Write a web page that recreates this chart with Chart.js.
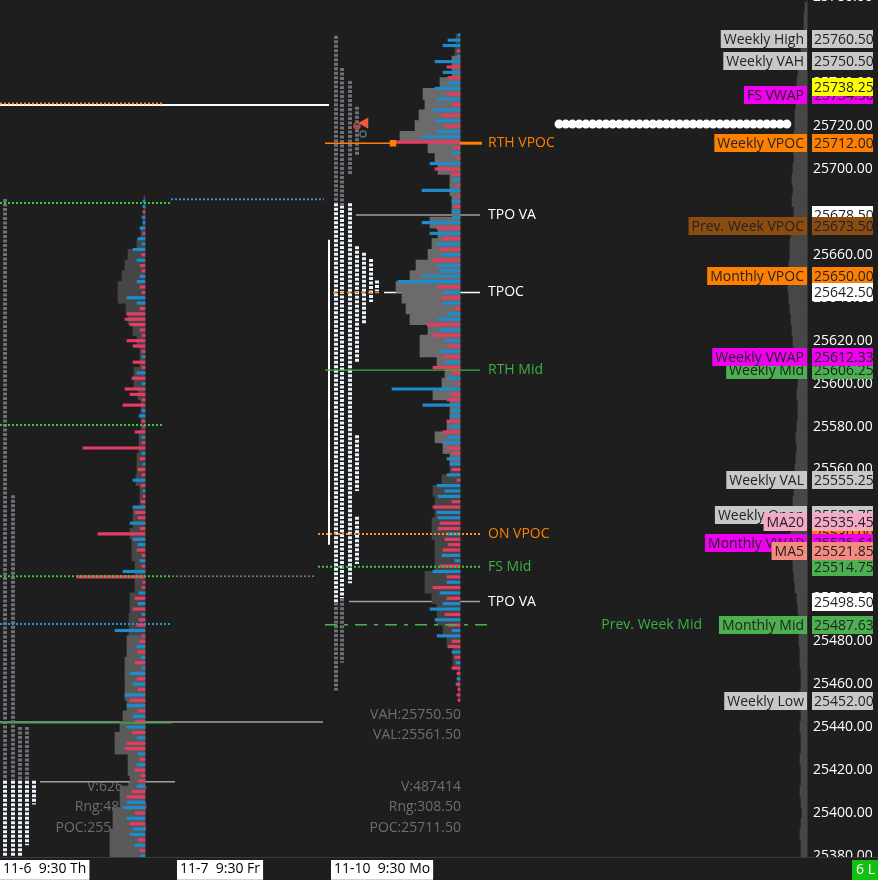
<!DOCTYPE html>
<html>

<head>
  <title>Market Profile</title>
  <script src="https://cdn.jsdelivr.net/npm/chart.js"></script>
  <style>
    html,
    body {
      margin: 0;
      padding: 0;
      background: #1e1e1e;
      overflow: hidden;
    }

    canvas {
      display: block;
    }
  </style>
</head>

<body>
  <canvas id="chart" width="878" height="880"></canvas>
  <script>
    // ---- axes ----
    const priceTicks = [25380, 25400, 25420, 25440, 25460, 25480, 25500, 25520, 25540, 25560,
      25580, 25600, 25620, 25640, 25660, 25680, 25700, 25720, 25740, 25760, 25780];
    const sessionStarts = [0, 177, 331];
    const sessionLabels = ['11-6  9:30 Th', '11-7  9:30 Fr', '11-10  9:30 Mo'];

    // ---- volume profiles (5 pt rows, top row first) ----
    const rightVolume = [4, 5, 8, 8, 20, 37, 35, 41, 45, 60, 32, 25, 22, 10, 10, 8, 8, 30, 22, 28,
      32, 44, 50, 64, 58, 54, 50, 32, 40, 40, 23, 15, 18, 27, 10, 10, 13, 25, 17, 10,
      10, 18, 27, 25, 25, 28, 28, 25, 25, 25, 35, 35, 28, 23, 23, 17, 13, 7, 7, 2, 2, 1];
    const leftVolume = [1, 1, 2, 4, 8, 17, 20, 23, 27, 27, 19, 17, 12, 8, 5, 5, 11, 11, 7, 4,
      4, 4, 6, 6, 8, 8, 9, 5, 5, 12, 12, 15, 13, 13, 10, 10, 10, 15, 15, 16,
      16, 18, 18, 20, 20, 20, 20, 18, 22, 25, 30, 30, 17, 17, 15, 25, 25, 32, 32, 35, 35, 35];
    const weeklyVolume = [2, 3, 3, 4, 6, 8, 9, 10, 10, 11, 12, 12, 13, 14, 13, 14, 15, 14, 15, 13,
      15, 16, 17, 17, 18, 18, 19, 18, 17, 16, 15, 14, 13, 11, 10, 9, 10, 9, 9, 10,
      11, 10, 11, 12, 12, 13, 14, 15, 16, 16, 15, 15, 14, 13, 12, 10, 9, 8, 8, 8,
      7, 7, 6, 6, 7, 6, 6, 7, 6, 6, 7, 6, 6, 7, 6, 5, 6, 7, 6, 6];
    const rightTop = 25760, leftTop = 25685, weeklyTop = 25775;
    const rightValueArea = [25561.5, 25750.5];
    const leftValueArea = [25380, 25480];

    // ---- delta per 2.5 pt row (+ buy / - sell) ----
    const deltaRight = [2, 12, 17, -3, 3, 25, -13, 17, -12, 13,
      25, -13, 23, -8, 27, -18, 25, -15, 23, 38,
      -65, -7, 8, -3, 30, -25, -8, 7, -3, 38,
      -3, 8, -5, 8, 7, 38, -23, 30, -17, 23,
      -20, 18, -27, 22, 20, 38, 62, -22, 17, -18,
      17, -5, 13, 22, -33, 20, -27, 15, -13, 20,
      -17, 15, -27, -8, 13, -2, 68, -10, -13, 37,
      8, 10, -13, 10, -17, 12, 17, -13, -8, 13,
      10, -8, 13, -3, 23, 15, 22, -8, -27, 23,
      22, -20, -22, 13, -15, -12, -17, 18, 5, -20,
      27, -13, 13, -27, 20, -13, 17, 30, -15, 25,
      -12, 8, 23, -8, -12, 8, -5, 4, -8, -3,
      3, -4, -2, -3, -2];
    const deltaLeft = [2, 2, -2, 3, 2, 5, -2, 7, 3, 12,
      -3, 8, -5, -3, 5, 8, -5, -3, 18, 8,
      -5, -18, -20, -15, -5, -3, -18, -12, -3, 3,
      -12, -3, 8, -13, 3, -20, -15, -3, -22, 3,
      6, -3, -2, -10, 3, -3, -62, 3, -5, 2,
      -7, -3, 12, -4, 2, -2, -4, 12, -10, -7,
      15, -5, -47, 12, 7, -8, -3, 5, -3, 22,
      -68, -2, -3, 6, -10, 7, -12, 3, -6, -8,
      30, -3, -5, 8, -7, 4, -10, 3, 15, -8,
      12, -7, 20, -15, 18, -7, 12, -10, 18, -13,
      8, -18, -20, 7, -5, 8, -10, -4, -7, 8,
      -13, -18, 18, 22, -10, 18, -15, 12, 15, -7,
      10, -5, 4];
    const deltaRightTop = 25762.5, deltaLeftTop = 25685;

    // ---- TPO columns ----
    const tpoX = [336, 336, 336, 342, 342, 342, 350, 350, 357, 357, 357, 357, 364, 371, 377,
      5, 5, 13, 13, 20, 20, 27, 27, 34, 329];
    const tpoHigh = [25762, 25684, 25498, 25747, 25683, 25500, 25741, 25684, 25729, 25664, 25576, 25538, 25661, 25658, 25648,
      25686, 25415, 25548, 25415, 25440, 25415, 25440, 25415, 25415, 25667];
    const tpoLow = [25684, 25498, 25457, 25683, 25500, 25470, 25697, 25507, 25706, 25610, 25550, 25516, 25628, 25638, 25643,
      25415, 25379, 25415, 25379, 25415, 25379, 25415, 25385, 25404, 25525];
    const tpoKind = ['on', 'rth', 'on', 'on', 'rth', 'on', 'on', 'rth', 'on', 'rth', 'rth', 'rth', 'rth', 'rth', 'rth',
      'on', 'rth', 'on', 'rth', 'on', 'rth', 'on', 'rth', 'rth', 'ib'];

    // ---- level lines ----
    const lineLevels = [25729.75, 25730.5, 25712, 25712, 25678.5, 25642.5, 25642.5, 25606.25, 25530, 25514.75, 25498.5, 25487.63,
      25684.1, 25685.9, 25580.7, 25510.3, 25510.3, 25488.0, 25442.4, 25442.0, 25414.5, 25720.9];
    const lineFrom = [0, 0, 325, 460, 356, 384, 333, 325, 318, 318, 349, 325, 0, 171, 0, 0, 172, 0, 0, 0, 40, 559];
    const lineTo = [329, 163, 393, 482, 480, 480, 380, 480, 480, 480, 480, 487, 171, 324, 163, 172, 316, 172, 323, 172, 175, 791];
    const lineKind = ['white', 'orangeDot', 'orange', 'orangeThick', 'grayLine', 'whiteLine', 'orangeDash', 'green', 'orangeDot', 'greenDot', 'grayLine', 'greenDashDot',
      'greenDot', 'blueDot', 'greenDot', 'greenDot', 'grayDot', 'blueDot', 'grayLine', 'green', 'grayLine', 'beads'];

    // ---- markers ----
    const markerX = [365, 357, 363, 393];
    const markerY = [25721.4, 25720.1, 25716.3, 25712];
    const markerKind = ['arrow', 'ringRed', 'ringGray', 'square'];

    // ---- level names next to the lines ----
    const annotTexts = ['RTH VPOC', 'TPO VA', 'TPOC', 'RTH Mid', 'ON VPOC', 'FS Mid', 'TPO VA'];
    const annotPrices = [25712, 25678.5, 25642.5, 25606.25, 25530, 25514.75, 25498.5];
    const annotKinds = ['orange', 'white', 'white', 'green', 'orange', 'green', 'white'];

    // ---- price flags on the axis (drawn in this order) ----
    const flagNames = ['Weekly High', 'Weekly VAH', 'FS VWAP', '', 'Weekly VPOC', '', 'Prev. Week VPOC', 'Monthly VPOC', '',
      'Weekly Mid', 'Weekly VWAP', 'Weekly VAL', 'Weekly Open', '', 'Monthly VWAP', 'MA20', '', 'MA5', '', 'Monthly Mid', 'Weekly Low'];
    const flagPrices = [25760.50, 25750.50, 25734.50, 25738.25, 25712.00, 25678.50, 25673.50, 25650.00, 25642.50,
      25606.25, 25612.33, 25555.25, 25538.75, 25530.00, 25525.61, 25535.45, 25514.75, 25521.85, 25498.50, 25487.63, 25452.00];
    const flagKinds = ['gray', 'gray', 'magenta', 'yellow', 'orange', 'white', 'brown', 'orange', 'white',
      'green', 'magenta', 'gray', 'gray', 'orange', 'magenta', 'pink', 'green', 'salmon', 'white', 'green', 'gray'];

    // ---- session stats ----
    const statsRight = ['VAH:25750.50', 'VAL:25561.50', 'V:487414', 'Rng:308.50', 'POC:25711.50'];
    const statsLeft = ['V:626274', 'Rng:485.00', 'POC:25512.25'];

    // ---- styles ----
    const BG = '#1e1e1e';
    const lineStyles = {
      white: { color: '#ffffff', width: 2, dash: [], above: false },
      orangeDot: { color: '#ff8a1e', width: 2, dash: [2, 2], above: true },
      orange: { color: '#ff8000', width: 1.5, dash: [], above: true },
      orangeThick: { color: '#ff8000', width: 3, dash: [], above: true },
      grayLine: { color: '#a0a0a0', width: 1.5, dash: [], above: false },
      whiteLine: { color: '#ffffff', width: 1.5, dash: [], above: false },
      orangeDash: { color: '#ff8000', width: 1.5, dash: [4, 3], above: true },
      green: { color: '#3cb043', width: 1.2, dash: [], above: true },
      greenDot: { color: '#3cc83c', width: 2, dash: [2, 2], above: true },
      greenDashDot: { color: '#4caf50', width: 1.5, dash: [12, 7, 4, 7], above: true },
      blueDot: { color: '#2a8fd0', width: 2, dash: [2, 2], above: true },
      grayDot: { color: '#7a7a7a', width: 1.5, dash: [2, 2], above: false },
      beads: { color: '#ffffff', width: 9, dash: [0.1, 6.6], above: true, cap: 'round' }
    };
    const tpoStyles = {
      on: { color: '#6e7077', width: 4, dash: [3, 1.5] },
      rth: { color: '#eaf4ff', width: 4, dash: [3, 1.5] },
      ib: { color: '#ffffff', width: 2, dash: [] }
    };
    const markerStyles = {
      arrow: { style: 'triangle', rot: -90, r: 5, fill: '#f05a3c', border: '#f05a3c' },
      ringRed: { style: 'circle', rot: 0, r: 3, fill: 'rgba(0,0,0,0)', border: '#d04040' },
      ringGray: { style: 'circle', rot: 0, r: 3, fill: 'rgba(0,0,0,0)', border: '#5a6a80' },
      square: { style: 'rect', rot: 0, r: 3.5, fill: '#ff8000', border: '#ff8000' }
    };
    const textColors = { orange: '#ff8000', white: '#ffffff', green: '#3cb043' };
    const flagStyles = {
      gray: '#c8c8c8', magenta: '#f000f0', yellow: '#ffff00', orange: '#ff8000', white: '#ffffff',
      brown: '#8b4c12', green: '#4caf50', pink: '#f5a8c8', salmon: '#f48a80'
    };
    const BLUE = '#1c8ccc', RED = '#e63c64';

    Chart.defaults.font.family = '"Open Sans", sans-serif';
    Chart.defaults.font.size = 14;

    function rows(top, step, values, anchor) {
      return values.map((v, i) => ({ y: top - i * step, x: [anchor - Math.abs(v), anchor] }));
    }

    const datasets = [];

    // level lines (a point with y: null breaks the line between segments)
    [...new Set(lineKind)].forEach(kind => {
      const st = lineStyles[kind];
      const pts = [];
      lineKind.forEach((k, i) => {
        if (k === kind) pts.push({ x: lineFrom[i], y: lineLevels[i] }, { x: lineTo[i], y: lineLevels[i] }, { x: lineTo[i], y: null });
      });
      datasets.push({
        type: 'line', data: pts, borderColor: st.color, borderWidth: st.width, borderDash: st.dash,
        borderCapStyle: st.cap || 'butt', pointRadius: 0, fill: false, tension: 0, spanGaps: false,
        order: st.above ? 1 : 5
      });
    });

    // TPO columns
    Object.keys(tpoStyles).forEach(kind => {
      const st = tpoStyles[kind];
      const pts = [];
      tpoKind.forEach((k, i) => {
        if (k === kind) pts.push({ x: tpoX[i], y: tpoHigh[i] }, { x: tpoX[i], y: tpoLow[i] }, { x: tpoX[i], y: null });
      });
      datasets.push({
        type: 'line', data: pts, borderColor: st.color, borderWidth: st.width, borderDash: st.dash,
        pointRadius: 0, fill: false, tension: 0, spanGaps: false, order: 4
      });
    });

    // volume profiles
    const profileBar = { type: 'bar', indexAxis: 'y', stack: 'profile', borderWidth: 0 };
    datasets.push(Object.assign({}, profileBar, {
      data: rows(weeklyTop, 5, weeklyVolume, 807), backgroundColor: '#474747', barThickness: 11, order: 3
    }));
    datasets.push(Object.assign({}, profileBar, {
      data: rows(rightTop, 5, rightVolume, 460), barThickness: 11, order: 3,
      backgroundColor: rightVolume.map((v, i) => {
        const p = rightTop - i * 5;
        return p >= rightValueArea[0] && p <= rightValueArea[1] ? '#6b6b6b' : '#444444';
      })
    }));
    datasets.push(Object.assign({}, profileBar, {
      data: rows(leftTop, 5, leftVolume, 145), barThickness: 11, order: 3,
      backgroundColor: leftVolume.map((v, i) => {
        const p = leftTop - i * 5;
        return p >= leftValueArea[0] && p <= leftValueArea[1] ? '#5a5a5a' : '#464646';
      })
    }));
    datasets.push(Object.assign({}, profileBar, {
      data: rows(deltaRightTop, 2.5, deltaRight, 460), barThickness: 2.5, order: 2,
      backgroundColor: deltaRight.map(v => v > 0 ? BLUE : RED)
    }));
    datasets.push(Object.assign({}, profileBar, {
      data: rows(deltaLeftTop, 2.5, deltaLeft, 145), barThickness: 2.5, order: 2,
      backgroundColor: deltaLeft.map(v => v > 0 ? BLUE : RED)
    }));

    // markers
    datasets.push({
      type: 'scatter', order: 0,
      data: markerX.map((x, i) => ({ x: x, y: markerY[i] })),
      pointStyle: markerKind.map(k => markerStyles[k].style),
      pointRotation: markerKind.map(k => markerStyles[k].rot),
      pointRadius: markerKind.map(k => markerStyles[k].r),
      pointBackgroundColor: markerKind.map(k => markerStyles[k].fill),
      pointBorderColor: markerKind.map(k => markerStyles[k].border),
      pointBorderWidth: 1.5
    });

    const decor = {
      id: 'decor',
      beforeDraw(chart) {
        const ctx = chart.ctx;
        ctx.save();
        ctx.fillStyle = BG;
        ctx.fillRect(0, 0, chart.width, chart.height);
        ctx.restore();
      },
      beforeDatasetsDraw(chart) {
        // stats text sits under the profiles
        const { ctx, chartArea, scales: { x } } = chart;
        ctx.save();
        ctx.font = '14px "Open Sans"';
        ctx.fillStyle = '#6e6e6e';
        ctx.textAlign = 'right';
        ctx.textBaseline = 'middle';
        const offs = [142, 122, 70, 50, 29];
        statsRight.forEach((t, i) => ctx.fillText(t, x.getPixelForValue(461), chartArea.bottom - offs[i]));
        statsLeft.forEach((t, i) => ctx.fillText(t, x.getPixelForValue(147), chartArea.bottom - offs[i + 2]));
        ctx.restore();
      },
      afterDatasetsDraw(chart) {
        const { ctx, scales: { x, y } } = chart;
        ctx.save();
        ctx.font = '14px "Open Sans"';
        ctx.textBaseline = 'middle';
        ctx.textAlign = 'left';
        annotTexts.forEach((t, i) => {
          ctx.fillStyle = textColors[annotKinds[i]];
          ctx.fillText(t, x.getPixelForValue(488), y.getPixelForValue(annotPrices[i]));
        });
        ctx.textAlign = 'right';
        ctx.fillStyle = textColors.green;
        ctx.fillText('Prev. Week Mid', x.getPixelForValue(702), y.getPixelForValue(25487.63));
        ctx.restore();
      },
      afterDraw(chart) {
        const { ctx, chartArea, scales: { y } } = chart;
        ctx.save();
        // corner under the price axis
        ctx.fillStyle = BG;
        ctx.fillRect(chartArea.right + 1, chartArea.bottom + 1, chart.width - chartArea.right, chart.height - chartArea.bottom);
        ctx.strokeStyle = '#3a3a3a';
        ctx.lineWidth = 1;
        ctx.beginPath();
        ctx.moveTo(0, chartArea.bottom + 0.5);
        ctx.lineTo(chart.width, chartArea.bottom + 0.5);
        ctx.stroke();
        ctx.font = '14px "Open Sans"';
        ctx.textBaseline = 'middle';
        ctx.fillStyle = '#12c012';
        ctx.fillRect(852, chartArea.bottom + 3, 26, 20);
        ctx.fillStyle = '#ffffff';
        ctx.textAlign = 'left';
        ctx.fillText('6 L', 856, chartArea.bottom + 13);

        // price flags
        const right = chartArea.right;
        flagPrices.forEach((p, i) => {
          const yp = Math.round(y.getPixelForValue(p));
          const bg = flagStyles[flagKinds[i]];
          if (flagNames[i]) {
            const w = ctx.measureText(flagNames[i]).width + 6;
            ctx.fillStyle = bg;
            ctx.fillRect(right - w, yp - 9, w, 18);
            ctx.fillStyle = '#222222';
            ctx.textAlign = 'right';
            ctx.fillText(flagNames[i], right - 3, yp + 1);
          }
          ctx.fillStyle = bg;
          ctx.fillRect(right + 5, yp - 9, 61, 18);
          ctx.fillStyle = '#222222';
          ctx.textAlign = 'left';
          ctx.fillText(p.toFixed(2), right + 7, yp + 1);
        });
        ctx.restore();
      }
    };

    new Chart(document.getElementById('chart'), {
      type: 'bar',
      data: { datasets: datasets },
      plugins: [decor],
      options: {
        responsive: false,
        animation: false,
        events: [],
        devicePixelRatio: 1,
        layout: { padding: 0, autoPadding: false },
        plugins: { legend: { display: false }, tooltip: { enabled: false } },
        scales: {
          x: {
            type: 'linear', position: 'bottom', min: 0, max: 807, offset: false, stacked: false,
            afterBuildTicks: s => { s.ticks = sessionStarts.map(v => ({ value: v })); },
            afterFit: s => { s.height = 23; s.paddingLeft = 0; s.paddingRight = 0; },
            grid: { display: false, drawTicks: false, offset: false },
            border: { display: true, color: '#3a3a3a' },
            ticks: {
              color: '#000000', align: 'start', padding: 4, labelOffset: 3, autoSkip: false, maxRotation: 0,
              showLabelBackdrop: true, backdropColor: '#ffffff',
              backdropPadding: { left: 3, right: 3, top: 1, bottom: 2 },
              callback: (v, i) => sessionLabels[i]
            }
          },
          y: {
            type: 'linear', position: 'right', min: 25379.5, max: 25778.7, offset: false,
            afterBuildTicks: s => { s.ticks = priceTicks.map(v => ({ value: v })); },
            afterFit: s => { s.width = 71; s.paddingTop = 0; s.paddingBottom = 0; },
            grid: { display: false, drawTicks: false },
            border: { display: true, color: '#333333' },
            ticks: {
              color: '#ffffff', padding: 6, autoSkip: false,
              callback: v => Number(v).toFixed(2)
            }
          }
        }
      }
    });
  </script>
</body>

</html>
